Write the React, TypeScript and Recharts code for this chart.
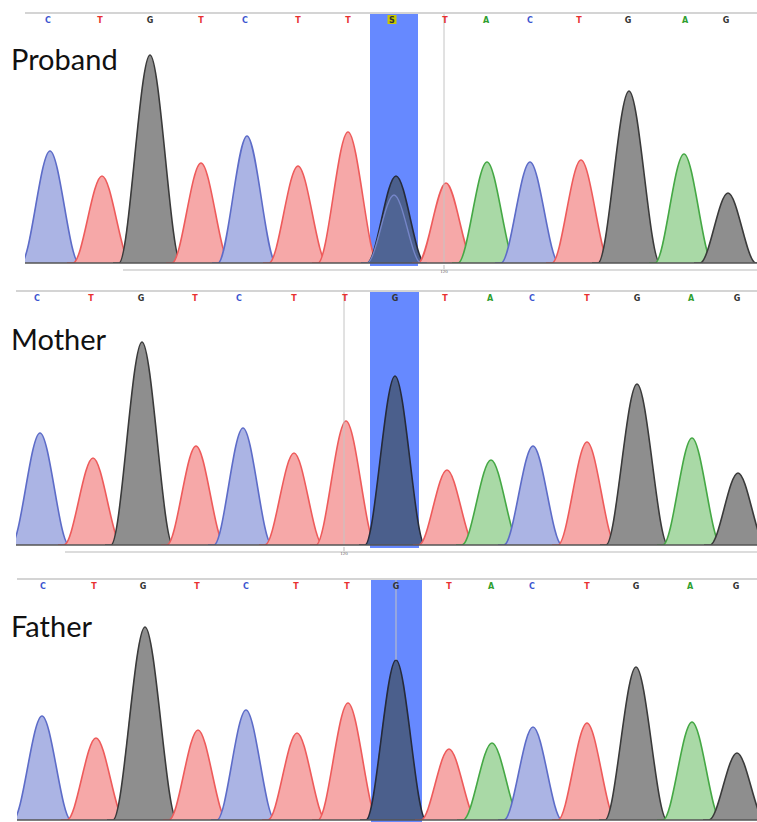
import React from 'react';
import { ComposedChart, Area, XAxis, YAxis, ReferenceArea, ReferenceLine } from 'recharts';

// ---- base calls (letters printed along the top) ----
const probandCalls = ['C', 'T', 'G', 'T', 'C', 'T', 'T', 'S', 'T', 'A', 'C', 'T', 'G', 'A', 'G'];
const parentCalls = ['C', 'T', 'G', 'T', 'C', 'T', 'T', 'G', 'T', 'A', 'C', 'T', 'G', 'A', 'G'];
const probandCallPos = [48, 100, 150, 201, 245, 298, 348, 392, 445, 486, 530, 579, 628, 685, 726];
const motherCallPos = [37, 91, 141, 195, 239, 294, 345, 395, 445, 490, 532, 587, 637, 691, 737];
const fatherCallPos = [43, 94, 143, 197, 246, 296, 347, 396, 449, 491, 532, 587, 636, 690, 736];

// ---- main peaks (channel of each peak = base) ----
const peakBases = ['C', 'T', 'G', 'T', 'C', 'T', 'T', 'G', 'T', 'A', 'C', 'T', 'G', 'A', 'G'];
const probandPeakPos = [50, 102, 150, 201, 247, 298, 348, 396, 446, 487, 530, 581, 629, 684, 728];
const probandPeakHeight = [112, 87, 208, 100, 127, 97, 131, 87, 80, 101, 101, 103, 172, 109, 70];
const probandPeakWidth = [29, 29, 31, 29, 29, 29, 30, 29, 28, 29, 29, 29, 31, 29, 28];
const motherPeakPos = [40, 93, 142, 196, 243, 294, 346, 395, 447, 491, 533, 587, 637, 692, 738];
const motherPeakHeight = [112, 87, 203, 99, 117, 92, 124, 169, 75, 85, 99, 103, 161, 107, 72];
const motherPeakWidth = [29, 29, 31, 29, 29, 29, 30, 30, 28, 29, 29, 29, 31, 29, 28];
const fatherPeakPos = [42, 96, 145, 198, 246, 297, 348, 396, 449, 492, 533, 587, 636, 692, 737];
const fatherPeakHeight = [104, 82, 193, 90, 110, 87, 117, 160, 71, 77, 93, 97, 153, 98, 67];
const fatherPeakWidth = [29, 29, 32, 29, 29, 29, 30, 30, 28, 29, 29, 29, 31, 29, 28];

// ---- secondary (heterozygous) peak in the proband ----
const probandMinorBase = ['C'];
const probandMinorPos = [394];
const probandMinorHeight = [68];
const probandMinorWidth = [27];

const COLORS: Record<string, { stroke: string; fill: string; text: string }> = {
  A: { stroke: '#45a845', fill: '#a9d9a6', text: '#2f9e2f' },
  C: { stroke: '#5d6cc8', fill: '#abb4e4', text: '#3c55d0' },
  G: { stroke: '#3a3a3a', fill: '#8e8e8e', text: '#333333' },
  T: { stroke: '#ee5b5b', fill: '#f6a8a8', text: '#e83030' },
  S: { stroke: '#3a3a3a', fill: '#8e8e8e', text: '#333333' },
};
const BAND = '#6689ff';

type Cfg = {
  name: string;
  top: number;
  left: number;
  plotHeight: number;
  bottomMargin: number;
  calls: string[];
  callPos: number[];
  peakPos: number[];
  peakHeight: number[];
  peakWidth: number[];
  minorBase: string[];
  minorPos: number[];
  minorHeight: number[];
  minorWidth: number[];
  band: [number, number];
  bandIndex: number;
  cursorX: number;
  cursorBottom: number;
  scaleLine: [number, number] | null;
  scaleLabel: number | null;
  labelY: number;
};

const panels: Cfg[] = [
  {
    name: 'Proband', top: 0, left: 25, plotHeight: 250, bottomMargin: 12,
    calls: probandCalls, callPos: probandCallPos,
    peakPos: probandPeakPos, peakHeight: probandPeakHeight, peakWidth: probandPeakWidth,
    minorBase: probandMinorBase, minorPos: probandMinorPos, minorHeight: probandMinorHeight, minorWidth: probandMinorWidth,
    band: [370, 418], bandIndex: 7, cursorX: 444, cursorBottom: 0, scaleLine: [123, 757], scaleLabel: 444, labelY: 70,
  },
  {
    name: 'Mother', top: 278, left: 16, plotHeight: 254, bottomMargin: 10,
    calls: parentCalls, callPos: motherCallPos,
    peakPos: motherPeakPos, peakHeight: motherPeakHeight, peakWidth: motherPeakWidth,
    minorBase: [], minorPos: [], minorHeight: [], minorWidth: [],
    band: [370, 419], bandIndex: 7, cursorX: 344, cursorBottom: 0, scaleLine: [65, 757], scaleLabel: 344, labelY: 350,
  },
  {
    name: 'Father', top: 566, left: 17, plotHeight: 241, bottomMargin: 2,
    calls: parentCalls, callPos: fatherCallPos,
    peakPos: fatherPeakPos, peakHeight: fatherPeakHeight, peakWidth: fatherPeakWidth,
    minorBase: [], minorPos: [], minorHeight: [], minorWidth: [],
    band: [371, 422], bandIndex: 7, cursorX: 396, cursorBottom: 160, scaleLine: null, scaleLabel: null, labelY: 637,
  },
];

function peakData(pos: number, h: number, w: number) {
  return [
    { x: pos - w - 6, y: 0 },
    { x: pos - w, y: 0 },
    { x: pos, y: h },
    { x: pos + w, y: 0 },
    { x: pos + w + 6, y: 0 },
  ];
}

function Panel({ cfg }: { cfg: Cfg }) {
  const height = 13 + cfg.plotHeight + cfg.bottomMargin;
  const tick = (props: any) => {
    const { x, y, payload } = props;
    let idx = props.index;
    if (idx === undefined || cfg.callPos[idx] !== payload.value) idx = cfg.callPos.indexOf(payload.value);
    const letter = cfg.calls[idx];
    const c = COLORS[letter] || COLORS.G;
    return (
      <g>
        {letter === 'S' && <rect x={x - 4.5} y={y + 2} width={9} height={9} fill="#c9c700" />}
        <text x={x} y={y + 10} textAnchor="middle" fontSize={8} fontWeight="bold" fontFamily="DejaVu Sans" fill={letter === 'S' ? '#333' : c.text}>
          {letter}
        </text>
      </g>
    );
  };

  const mainPeaks = cfg.peakPos.map((p, i) => ({ base: peakBases[i], pos: p, h: cfg.peakHeight[i], w: cfg.peakWidth[i], inBand: i === cfg.bandIndex }));
  const minorPeaks = cfg.minorPos.map((p, i) => ({ base: cfg.minorBase[i], pos: p, h: cfg.minorHeight[i], w: cfg.minorWidth[i] }));

  return (
    <div style={{ position: 'absolute', left: 0, top: cfg.top, width: 757, height }}>
      <ComposedChart width={757} height={height} margin={{ top: 0, right: 0, bottom: cfg.bottomMargin, left: cfg.left }}>
        <ReferenceArea
          x1={cfg.band[0]}
          x2={cfg.band[1]}
          y1={-3}
          y2={cfg.plotHeight}
          fill={BAND}
          fillOpacity={1}
          stroke="none"
          ifOverflow="visible"
        />
        <ReferenceLine
          segment={[{ x: cfg.cursorX, y: cfg.cursorBottom }, { x: cfg.cursorX, y: cfg.plotHeight }]}
          stroke="#c4c4c4"
          strokeWidth={1}
          ifOverflow="visible"
        />
        {cfg.scaleLine && (
          <ReferenceLine
            segment={[{ x: cfg.scaleLine[0], y: -7 }, { x: cfg.scaleLine[1], y: -7 }]}
            stroke="#d0d0d0"
            strokeWidth={1.5}
            ifOverflow="visible"
          />
        )}
        {cfg.scaleLabel !== null && (
          <ReferenceLine
            segment={[{ x: cfg.scaleLabel, y: -2 }, { x: cfg.scaleLabel, y: -6 }]}
            stroke="#bbbbbb"
            ifOverflow="visible"
            label={{ value: '120', position: 'bottom', fontSize: 5, fill: '#666', offset: 0 }}
          />
        )}
        {mainPeaks.map((pk, i) => {
          const c = COLORS[pk.base];
          return (
            <Area
              key={'m' + i}
              data={peakData(pk.pos, pk.h, pk.w)}
              dataKey="y"
              type="monotone"
              stroke={pk.inBand ? '#262b3a' : c.stroke}
              strokeWidth={1.6}
              fill={pk.inBand ? '#4b5f8c' : c.fill}
              fillOpacity={1}
              dot={false}
              activeDot={false}
              isAnimationActive={false}
            />
          );
        })}
        {minorPeaks.map((pk, i) => (
          <Area
            key={'n' + i}
            data={peakData(pk.pos, pk.h, pk.w)}
            dataKey="y"
            type="monotone"
            stroke="#7585c8"
            strokeWidth={1.4}
            fill="#5a6fa8"
            fillOpacity={0.3}
            dot={false}
            activeDot={false}
            isAnimationActive={false}
          />
        ))}
        <ReferenceLine y={0} stroke="#555555" strokeWidth={1.5} ifOverflow="visible" />
        <XAxis
          type="number"
          dataKey="x"
          domain={[cfg.left, 757]}
          allowDataOverflow
          orientation="top"
          height={13}
          ticks={cfg.callPos}
          interval={0}
          tickSize={0}
          tickMargin={0}
          tickLine={false}
          axisLine={{ stroke: '#d4d4d4', strokeWidth: 2 }}
          tick={tick}
        />
        <YAxis type="number" domain={[0, cfg.plotHeight]} allowDataOverflow hide />
      </ComposedChart>
    </div>
  );
}

export default function App() {
  return (
    <div style={{ position: 'absolute', left: 0, top: 0, width: 757, height: 822, background: '#ffffff', overflow: 'hidden' }}>
      {panels.map((p) => (
        <Panel key={p.name} cfg={p} />
      ))}
      <svg width={757} height={822} style={{ position: 'absolute', left: 0, top: 0, pointerEvents: 'none' }}>
        {panels.map((p) => (
          <text key={p.name} x={11} y={p.labelY} fontFamily="Lato" fontSize={29} fill="#111">
            {p.name}
          </text>
        ))}
      </svg>
    </div>
  );
}
